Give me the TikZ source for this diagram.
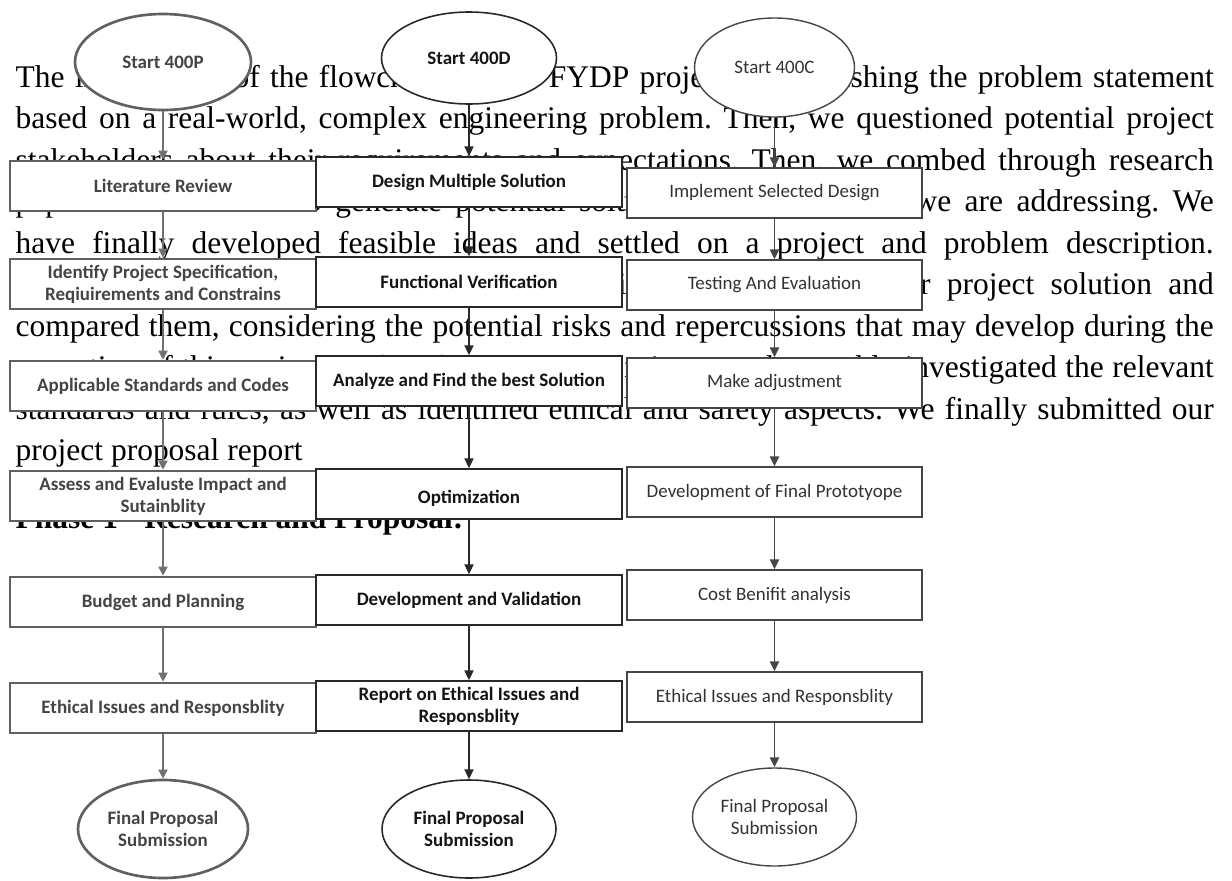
\documentclass[tikz,border=0pt]{standalone}
\usepackage{fontspec}
\setmainfont{Liberation Serif}
\newfontfamily\chartfont{Carlito}
\usetikzlibrary{arrows.meta,shapes.geometric}
\definecolor{leftLine}{RGB}{96,96,96}
\definecolor{leftInk}{RGB}{68,68,68}
\definecolor{leftArrow}{RGB}{112,112,112}
\definecolor{midLine}{RGB}{40,40,40}
\definecolor{midInk}{RGB}{20,20,20}
\definecolor{rightLine}{RGB}{70,70,70}
\definecolor{rightInk}{RGB}{50,50,50}
\frenchspacing

\begin{document}
\begin{tikzpicture}[x=1cm,y=1cm,
  bodytext/.style={anchor=base west,inner sep=0pt,font=\fontsize{8.96}{10.8}\selectfont},
  leftbox/.style={draw=leftLine,line width=0.75pt,fill=white,minimum width=3.06cm,minimum height=0.50cm,inner sep=0pt,align=center,text=leftInk,font=\chartfont\bfseries\fontsize{5.4}{6.26}\selectfont},
  midbox/.style={draw=midLine,line width=0.45pt,fill=white,minimum width=3.06cm,minimum height=0.50cm,inner sep=0pt,align=center,text=midInk,font=\chartfont\bfseries\fontsize{5.4}{6.26}\selectfont},
  rightbox/.style={draw=rightLine,line width=0.4pt,fill=white,minimum width=2.95cm,minimum height=0.50cm,inner sep=0pt,align=center,text=rightInk,font=\chartfont\fontsize{5.4}{6.26}\selectfont},
  leftarrow/.style={draw=leftArrow,line width=0.45pt,-{Triangle[width=2.6pt,length=2.6pt]}},
  midarrow/.style={draw=midLine,line width=0.42pt,-{Triangle[width=2.6pt,length=2.8pt]}},
  rightarrow/.style={draw=rightLine,line width=0.4pt,-{Triangle[width=2.6pt,length=2.8pt]}}]
\path[use as bounding box] (0,0) rectangle (12.32,-8.80);
\fill[white] (0,0) rectangle (12.32,-8.80);

% report text behind the chart
\node[bodytext] (line1) at (0.15,-0.87) {\makebox[11.98cm][s]{The initial stage of the flowchart for our FYDP project is establishing the problem statement}};
\node[bodytext] (line2) at (0.15,-1.285) {\makebox[11.98cm][s]{based on a real-world, complex engineering problem. Then, we questioned potential project}};
\node[bodytext] (line3) at (0.15,-1.70) {\makebox[11.98cm][s]{stakeholders about their requirements and expectations. Then, we combed through research}};
\node[bodytext] (line4) at (0.15,-2.115) {\makebox[11.98cm][s]{papers and literature to generate potential solutions to the problem we are addressing. We}};
\node[bodytext] (line5) at (0.15,-2.53) {\makebox[11.98cm][s]{have finally developed feasible ideas and settled on a project and problem description.}};
\node[bodytext] (line6) at (0.15,-2.945) {\makebox[11.98cm][s]{After that, we designed several possible design alternatives for our project solution and}};
\node[bodytext] (line7) at (0.15,-3.36) {\makebox[11.98cm][s]{compared them, considering the potential risks and repercussions that may develop during the}};
\node[bodytext] (line8) at (0.15,-3.775) {\makebox[11.98cm][s]{execution of this project. Before finalising the project, we thoroughly investigated the relevant}};
\node[bodytext] (line9) at (0.15,-4.19) {\makebox[11.98cm][s]{standards and rules, as well as identified ethical and safety aspects. We finally submitted our}};
\node[bodytext] (line10) at (0.15,-4.605) {project proposal report};
\node[bodytext,font=\bfseries\fontsize{8.96}{10.8}\selectfont] (phase) at (0.15,-5.28) {Phase 1 - Research and Proposal:};

% column 400P
\node[leftbox,ellipse,minimum width=1.76cm,minimum height=0.96cm] (pStart) at (1.63,-0.62) {Start 400P};
\node[leftbox] (pLit) at (1.63,-1.86) {Literature Review};
\node[leftbox] (pSpec) at (1.63,-2.84) {Identify Project Specification,\\Reqiuirements and Constrains};
\node[leftbox] (pStd) at (1.63,-3.86) {Applicable Standards and Codes};
\node[leftbox] (pImpact) at (1.63,-4.96) {Assess and Evaluste Impact and\\Sutainblity};
\node[leftbox] (pBudget) at (1.63,-6.02) {Budget and Planning};
\node[leftbox] (pEthics) at (1.63,-7.08) {Ethical Issues and Responsblity};
\node[leftbox,ellipse,minimum width=1.70cm,minimum height=0.98cm] (pFinal) at (1.63,-8.29) {Final Proposal\\Submission};

\draw[leftarrow] (pStart) -- (pLit);
\draw[leftarrow] (pLit) -- (pSpec);
\draw[leftarrow] (pSpec) -- (pStd);
\draw[leftarrow] (pStd) -- (pImpact);
\draw[leftarrow] (pImpact) -- (pBudget);
\draw[leftarrow] (pBudget) -- (pEthics);
\draw[leftarrow] (pEthics) -- (pFinal);

% column 400D
\node[midbox,ellipse,minimum width=1.75cm,minimum height=0.92cm] (dStart) at (4.69,-0.58) {Start 400D};
\node[midbox] (dDesign) at (4.69,-1.82) {Design Multiple Solution};
\node[midbox] (dVerify) at (4.69,-2.82) {Functional Verification};
\node[midbox] (dBest) at (4.69,-3.81) {Analyze and Find the best Solution};
\node[midbox] (dOpt) at (4.69,-4.94) {\mbox{}\\Optimization};
\node[midbox] (dDevel) at (4.69,-6.00) {Development and Validation};
\node[midbox] (dReport) at (4.69,-7.06) {Report on Ethical Issues and\\Responsblity};
\node[midbox,ellipse,minimum width=1.74cm,minimum height=0.98cm] (dFinal) at (4.69,-8.29) {Final Proposal\\Submission};

\draw[midarrow] (dStart) -- (dDesign);
\draw[midarrow] (dDesign) -- (dVerify);
\draw[midarrow] (dVerify) -- (dBest);
\draw[midarrow] (dBest) -- (dOpt);
\draw[midarrow] (dOpt) -- (dDevel);
\draw[midarrow] (dDevel) -- (dReport);
\draw[midarrow] (dReport) -- (dFinal);

% column 400C
\node[rightbox,ellipse,minimum width=1.60cm,minimum height=0.99cm] (cStart) at (7.745,-0.675) {Start 400C};
\node[rightbox] (cImpl) at (7.745,-1.93) {Implement Selected Design};
\node[rightbox] (cTest) at (7.745,-2.85) {Testing And Evaluation};
\node[rightbox] (cAdjust) at (7.745,-3.83) {Make adjustment};
\node[rightbox] (cProto) at (7.745,-4.92) {Development of Final Prototyope};
\node[rightbox] (cCost) at (7.745,-5.95) {Cost Benifit analysis};
\node[rightbox] (cEthics) at (7.745,-6.97) {Ethical Issues and Responsblity};
\node[rightbox,ellipse,minimum width=1.64cm,minimum height=0.98cm] (cFinal) at (7.745,-8.17) {Final Proposal\\Submission};

\draw[rightarrow] (cStart) -- (cImpl);
\draw[rightarrow] (cImpl) -- (cTest);
\draw[rightarrow] (cTest) -- (cAdjust);
\draw[rightarrow] (cAdjust) -- (cProto);
\draw[rightarrow] (cProto) -- (cCost);
\draw[rightarrow] (cCost) -- (cEthics);
\draw[rightarrow] (cEthics) -- (cFinal);
\end{tikzpicture}
\end{document}
